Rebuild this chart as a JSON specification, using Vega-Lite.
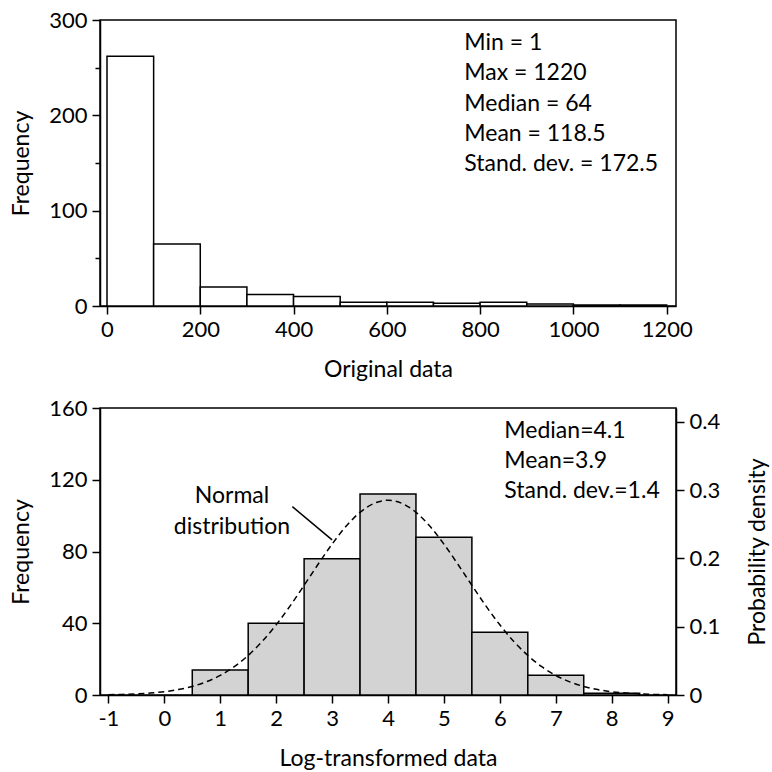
{
  "$schema": "https://vega.github.io/schema/vega-lite/v6.json",
  "background": "white",
  "padding": {"left": 9, "top": 8, "right": 5, "bottom": 5},
  "bounds": "flush",
  "spacing": 102,
  "config": {
    "view": {"stroke": "black", "strokeWidth": 1.5},
    "font": "Lato",
    "axis": {
      "labelFont": "Lato", "labelFontSize": 22, "labelColor": "black",
      "titleFont": "Lato", "titleFontSize": 23, "titleFontWeight": "normal", "titleColor": "black",
      "domainColor": "black", "domainWidth": 1.5, "tickColor": "black", "tickWidth": 1.5,
      "tickSize": 8, "grid": false, "labelPadding": 5, "labelOverlap": false, "labelFlush": false
    },
    "axisY": {"titlePadding": 15},
    "axisX": {"titlePadding": 18},
    "text": {"font": "Lato", "fontSize": 23, "color": "black"}
  },
  "vconcat": [
    {
      "width": 576,
      "height": 286,
      "layer": [
        {
          "data": {"values": [
            {"x": 0, "x_end": 100, "y": 262},
            {"x": 100, "x_end": 200, "y": 65},
            {"x": 200, "x_end": 300, "y": 20},
            {"x": 300, "x_end": 400, "y": 12},
            {"x": 400, "x_end": 500, "y": 10},
            {"x": 500, "x_end": 600, "y": 4},
            {"x": 600, "x_end": 700, "y": 4},
            {"x": 700, "x_end": 800, "y": 3},
            {"x": 800, "x_end": 900, "y": 4},
            {"x": 900, "x_end": 1000, "y": 2},
            {"x": 1000, "x_end": 1100, "y": 1},
            {"x": 1100, "x_end": 1200, "y": 1}
          ]},
          "mark": {"type": "rect", "fill": "white", "stroke": "black", "strokeWidth": 1.5},
          "encoding": {
            "x": {"field": "x", "type": "quantitative",
                  "scale": {"domain": [-15, 1220], "nice": false, "zero": false},
                  "axis": {"values": [0, 200, 400, 600, 800, 1000, 1200], "labelExpr": "'' + datum.value", "title": "Original data"}},
            "x2": {"field": "x_end"},
            "y": {"field": "y", "type": "quantitative",
                  "scale": {"domain": [0, 300], "nice": false},
                  "axis": {"values": [0, 50, 100, 150, 200, 250, 300],
                           "labelExpr": "datum.value % 100 == 0 ? '' + datum.value : ''",
                           "tickSize": {"condition": {"test": "datum.value % 100 == 0", "value": 8}, "value": 5},
                           "title": "Frequency"}},
            "y2": {"datum": 0}
          }
        },
        {
          "data": {"values": [
            {"x": 766, "y": 275.5, "label": "Min = 1"},
            {"x": 766, "y": 244, "label": "Max = 1220"},
            {"x": 766, "y": 212, "label": "Median = 64"},
            {"x": 766, "y": 180.5, "label": "Mean = 118.5"},
            {"x": 766, "y": 149, "label": "Stand. dev. = 172.5"}
          ]},
          "mark": {"type": "text", "align": "left", "baseline": "middle"},
          "encoding": {
            "x": {"field": "x", "type": "quantitative"},
            "y": {"field": "y", "type": "quantitative"},
            "text": {"field": "label"}
          }
        }
      ]
    },
    {
      "width": 576,
      "height": 287,
      "layer": [
        {
          "layer": [
            {
              "data": {"values": [
                {"x": 0.5, "x_end": 1.5, "y": 14},
                {"x": 1.5, "x_end": 2.5, "y": 40},
                {"x": 2.5, "x_end": 3.5, "y": 76},
                {"x": 3.5, "x_end": 4.5, "y": 112},
                {"x": 4.5, "x_end": 5.5, "y": 88},
                {"x": 5.5, "x_end": 6.5, "y": 35},
                {"x": 6.5, "x_end": 7.5, "y": 11},
                {"x": 7.5, "x_end": 8.5, "y": 1}
              ]},
              "mark": {"type": "rect", "fill": "#d3d3d3", "stroke": "black", "strokeWidth": 1.5},
              "encoding": {
                "x": {"field": "x", "type": "quantitative",
                      "scale": {"domain": [-1.15, 9.15], "nice": false, "zero": false},
                      "axis": {"values": [-1, 0, 1, 2, 3, 4, 5, 6, 7, 8, 9], "labelExpr": "'' + datum.value", "title": "Log-transformed data"}},
                "x2": {"field": "x_end"},
                "y": {"field": "y", "type": "quantitative",
                      "scale": {"domain": [0, 160], "nice": false},
                      "axis": {"values": [0, 20, 40, 60, 80, 100, 120, 140, 160],
                               "labelExpr": "datum.value % 40 == 0 ? '' + datum.value : ''",
                               "tickSize": {"condition": {"test": "datum.value % 40 == 0", "value": 8}, "value": 5},
                               "title": "Frequency"}},
                "y2": {"datum": 0}
              }
            },
            {
              "data": {"values": [
                {"x": 6.08, "y": 147, "label": "Median=4.1"},
                {"x": 6.08, "y": 130.5, "label": "Mean=3.9"},
                {"x": 6.08, "y": 114, "label": "Stand. dev.=1.4"}
              ]},
              "mark": {"type": "text", "align": "left", "baseline": "middle"},
              "encoding": {
                "x": {"field": "x", "type": "quantitative"},
                "y": {"field": "y", "type": "quantitative"},
                "text": {"field": "label"}
              }
            },
            {
              "data": {"values": [
                {"x": 1.21, "y": 110.7, "label": "Normal"},
                {"x": 1.21, "y": 93.4, "label": "distribution"}
              ]},
              "mark": {"type": "text", "align": "center", "baseline": "middle"},
              "encoding": {
                "x": {"field": "x", "type": "quantitative"},
                "y": {"field": "y", "type": "quantitative"},
                "text": {"field": "label"}
              }
            },
            {
              "data": {"values": [
                {"x": 2.29, "y": 105, "x_end": 3.0, "y_end": 86.5}
              ]},
              "mark": {"type": "rule", "stroke": "black", "strokeWidth": 1.5},
              "encoding": {
                "x": {"field": "x", "type": "quantitative"},
                "y": {"field": "y", "type": "quantitative"},
                "x2": {"field": "x_end"},
                "y2": {"field": "y_end"}
              }
            }
          ]
        },
        {
          "data": {"values": [
            {"x": -1, "d": 0.00048}, {"x": -0.75, "d": 0.0009}, {"x": -0.5, "d": 0.00163}, {"x": -0.25, "d": 0.00284},
            {"x": 0, "d": 0.00481}, {"x": 0.25, "d": 0.00789}, {"x": 0.5, "d": 0.01252}, {"x": 0.75, "d": 0.01926},
            {"x": 1, "d": 0.02868}, {"x": 1.25, "d": 0.0414}, {"x": 1.5, "d": 0.05786}, {"x": 1.75, "d": 0.07833},
            {"x": 2, "d": 0.10271}, {"x": 2.25, "d": 0.13046}, {"x": 2.5, "d": 0.16051}, {"x": 2.75, "d": 0.19128},
            {"x": 3, "d": 0.2208}, {"x": 3.25, "d": 0.24687}, {"x": 3.5, "d": 0.26735}, {"x": 3.75, "d": 0.28045},
            {"x": 4, "d": 0.28496}, {"x": 4.25, "d": 0.28045}, {"x": 4.5, "d": 0.26735}, {"x": 4.75, "d": 0.24687},
            {"x": 5, "d": 0.2208}, {"x": 5.25, "d": 0.19128}, {"x": 5.5, "d": 0.16051}, {"x": 5.75, "d": 0.13046},
            {"x": 6, "d": 0.10271}, {"x": 6.25, "d": 0.07833}, {"x": 6.5, "d": 0.05786}, {"x": 6.75, "d": 0.0414},
            {"x": 7, "d": 0.02868}, {"x": 7.25, "d": 0.01926}, {"x": 7.5, "d": 0.01252}, {"x": 7.75, "d": 0.00789},
            {"x": 8, "d": 0.00481}, {"x": 8.25, "d": 0.00284}, {"x": 8.5, "d": 0.00163}, {"x": 8.75, "d": 0.0009},
            {"x": 9, "d": 0.00048}
          ]},
          "mark": {"type": "line", "stroke": "black", "strokeWidth": 1.5, "strokeDash": [6, 4], "interpolate": "monotone"},
          "encoding": {
            "x": {"field": "x", "type": "quantitative"},
            "y": {"field": "d", "type": "quantitative",
                  "scale": {"domain": [0, 0.42], "nice": false},
                  "axis": {"orient": "right", "values": [0, 0.1, 0.2, 0.3, 0.4],
                           "labelExpr": "datum.value == 0 ? '0' : format(datum.value, '.1f')",
                           "title": "Probability density", "titleAngle": 270, "titlePadding": 50}}
          }
        }
      ],
      "resolve": {"scale": {"y": "independent"}}
    }
  ]
}
